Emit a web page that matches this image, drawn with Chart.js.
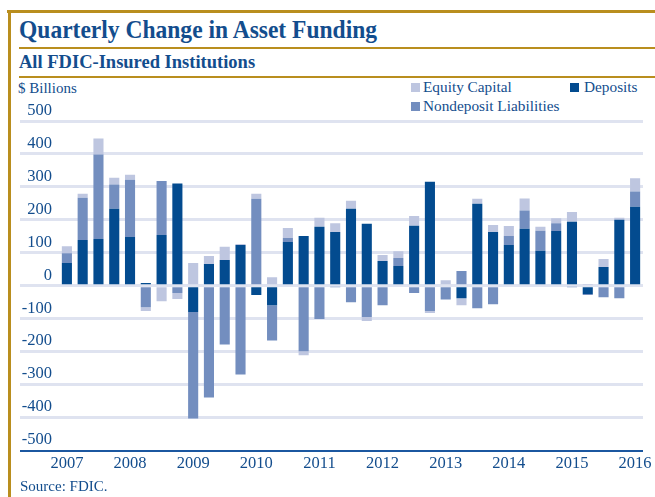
<!DOCTYPE html>
<html>
<head>
<meta charset="utf-8">
<script src="https://cdn.jsdelivr.net/npm/chart.js@4"></script>
<style>
  html, body { margin: 0; padding: 0; background: #ffffff; }
  #wrap { position: relative; width: 655px; height: 497px; overflow: hidden; font-family: 'Liberation Serif', 'DejaVu Serif', serif; color: #134d8d; }
  canvas { position: absolute; left: 0; top: 0; }
  .t { position: absolute; white-space: nowrap; line-height: 1; }
  .gold { position: absolute; background: #b98e1e; }
  .sq { position: absolute; width: 9px; height: 9px; }
</style>
</head>
<body>
<div id="wrap">
  <div class="gold" style="left:7px; top:9.5px; width:648px; height:3px;"></div>
  <div class="gold" style="left:7.5px; top:9.5px; width:3px; height:488px;"></div>
  <div class="t" id="title" style="left:19px; top:17.2px; font-size:24px; font-weight:bold; transform-origin:0 0; transform:scale(0.98,1.06);">Quarterly Change in Asset Funding</div>
  <div class="gold" style="left:19px; top:47px; width:636px; height:2px;"></div>
  <div class="t" id="subtitle" style="left:19px; top:53px; font-size:18.5px; font-weight:bold;">All FDIC-Insured Institutions</div>
  <div class="gold" style="left:19px; top:75.5px; width:636px; height:2px;"></div>
  <div class="t" style="left:18px; top:81.4px; font-size:15px;">$ Billions</div>
  <div id="legend"></div>
  <canvas id="c" width="655" height="497"></canvas>
  <div class="t" style="left:20px; top:479.4px; font-size:15px;">Source: FDIC.</div>
</div>
<script>
// ---- Data ($ billions) ----
const quarters = [
  '2007Q1','2007Q2','2007Q3','2007Q4',
  '2008Q1','2008Q2','2008Q3','2008Q4',
  '2009Q1','2009Q2','2009Q3','2009Q4',
  '2010Q1','2010Q2','2010Q3','2010Q4',
  '2011Q1','2011Q2','2011Q3','2011Q4',
  '2012Q1','2012Q2','2012Q3','2012Q4',
  '2013Q1','2013Q2','2013Q3','2013Q4',
  '2014Q1','2014Q2','2014Q3','2014Q4',
  '2015Q1','2015Q2','2015Q3','2015Q4',
  '2016Q1'
];
const yearTicks = ['2007','2008','2009','2010','2011','2012','2013','2014','2015','2016'];
const yTickValues = [-500,-400,-300,-200,-100,0,100,200,300,400,500];

const deposits = [69,139,142,234, 148,8,154,310, -80,66,78,124, -28,-59,133,151,
                  179,163,234,188, 75,60,182,316, 0,-38,249,163, 124,173,106,166,
                  194,-25,57,200, 240];
const nondepositLiabilities = [30,128,256,73, 174,-65,164,-22, -323,-339,-178,-269, 264,-107,12,-199,
                  -101,-3,-50,-95, -59,24,-22,-77, -42,45,-68,-56, 27,55,61,24,
                  -3,-3,-35,-38, 46];
const equityCapital = [21,12,49,21, 15,-12,-47,-18, 69,24,40,3, 15,26,30,-12,
                  27,27,24,-12, 18,21,30,-6, 17,-21,15,21, 30,37,12,15,
                  30,3,24,6, 40];

const seriesNames = ['Deposits', 'Nondeposit Liabilities', 'Equity Capital'];
const seriesColors = ['#034b8f', '#738ebf', '#bec6e0'];

const textColor = '#134d8d';
const gridColor = '#dfe3f0';
const fontFamily = "'Liberation Serif', 'DejaVu Serif', serif";

const chart = new Chart(document.getElementById('c'), {
  type: 'bar',
  data: {
    labels: quarters,
    datasets: [
      { label: seriesNames[0], data: deposits, backgroundColor: seriesColors[0] },
      { label: seriesNames[1], data: nondepositLiabilities, backgroundColor: seriesColors[1] },
      { label: seriesNames[2], data: equityCapital, backgroundColor: seriesColors[2] }
    ]
  },
  options: {
    responsive: false,
    animation: false,
    devicePixelRatio: 1,
    layout: { padding: { left: 20, right: 12, top: 121, bottom: 16.5 } },
    datasets: { bar: { categoryPercentage: 1.0, barPercentage: 0.64, borderWidth: 0 } },
    plugins: { legend: { display: false }, tooltip: { enabled: false }, title: { display: false } },
    scales: {
      x: {
        stacked: true,
        grid: { display: false, drawTicks: false },
        border: { display: false },
        ticks: {
          autoSkip: false, maxRotation: 0, minRotation: 0, padding: 3,
          color: textColor,
          font: { family: fontFamily, size: 16.5 },
          callback: function (val, idx) { return idx % 4 === 0 ? yearTicks[idx / 4] : ''; }
        },
        afterFit: function (s) { s.height = 30; }
      },
      y: {
        stacked: true,
        min: -500, max: 500,
        afterBuildTicks: function (s) { s.ticks = yTickValues.map(v => ({ value: v })); },
        grid: {
          drawTicks: true, tickLength: 39,
          color: ctx => (ctx.tick && ctx.tick.value === -500) ? '#1b57a0' : gridColor,
          lineWidth: ctx => (ctx.tick && ctx.tick.value === -500) ? 2 : 3
        },
        border: { display: false },
        ticks: {
          padding: -32, labelOffset: -10.5,
          color: textColor,
          font: { family: fontFamily, size: 16.5 },
          callback: v => String(v)
        },
        afterFit: function (s) { s.width = 39; }
      }
    }
  }
});

// HTML legend built from the chart's datasets
(function () {
  const lg = document.getElementById('legend');
  const pos = { 'Equity Capital': [411, 83, 423, 79.2], 'Deposits': [570, 83, 584, 79.2], 'Nondeposit Liabilities': [411, 101.5, 423, 97.5] };
  chart.data.datasets.forEach(ds => {
    const p = pos[ds.label];
    const sq = document.createElement('div');
    sq.className = 'sq';
    sq.style.left = p[0] + 'px'; sq.style.top = p[1] + 'px'; sq.style.background = ds.backgroundColor;
    const tx = document.createElement('div');
    tx.className = 't';
    tx.style.left = p[2] + 'px'; tx.style.top = p[3] + 'px'; tx.style.fontSize = '15.3px';
    tx.textContent = ds.label;
    lg.appendChild(sq); lg.appendChild(tx);
  });
})();
</script>
</body>
</html>
